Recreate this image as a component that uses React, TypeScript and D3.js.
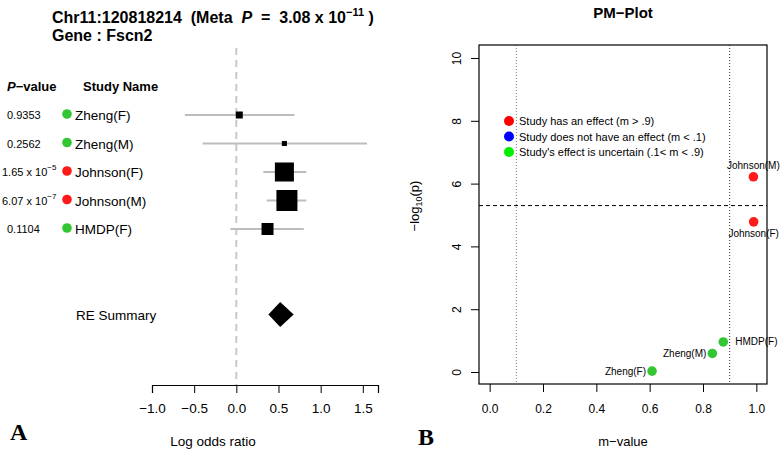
import { useEffect, useRef } from 'react';
import * as d3 from 'd3';

// forest plot data
const studies = ['Zheng(F)', 'Zheng(M)', 'Johnson(F)', 'Johnson(M)', 'HMDP(F)'];
const pText = ['0.9353', '0.2562', '1.65 x 10', '6.07 x 10', '0.1104'];
const pExp = ['', '', '-5', '-7', ''];
const pValues = [0.9353, 0.2562, 1.65e-5, 6.07e-7, 0.1104];
const logOR = [0.035, 0.57, 0.57, 0.6, 0.37];
const ciLow = [-0.61, -0.4, 0.32, 0.36, -0.07];
const ciHigh = [0.69, 1.55, 0.83, 0.83, 0.8];
const weights = [4.8, 2.5, 35.4, 43.2, 14.1];
const summary = [0.38, 0.52, 0.68];
const orTicks = [-1.0, -0.5, 0.0, 0.5, 1.0, 1.5];

// pm plot data
const mValues = [0.609, 0.835, 0.99, 0.989, 0.876];
const mTicks = [0, 0.2, 0.4, 0.6, 0.8, 1.0];
const logPTicks = [0, 2, 4, 6, 8, 10];
const thresholdLogP = 5.3;
const labelSide = ['left', 'left', 'below', 'above', 'right'];
const legendItems = [
  ['Study has an effect (m > .9)', '#ff0000'],
  ['Study does not have an effect (m < .1)', '#0000ff'],
  ["Study's effect is uncertain (.1< m < .9)", '#00ee00'],
];

const FONT = 'Liberation Sans, Arial, Helvetica, sans-serif';

function colorOf(m: number) {
  if (m > 0.9) return '#ff1a1a';
  if (m < 0.1) return '#0000ff';
  return '#33c633';
}

function App() {
  const leftAxis = useRef<SVGGElement>(null);
  const pmX = useRef<SVGGElement>(null);
  const pmY = useRef<SVGGElement>(null);

  const x = d3.scaleLinear().domain([-1, 1.68]).range([152, 378]);
  const row = d3.scaleLinear().domain([0, 1]).range([115, 143.5]);
  const box = d3.scaleSqrt().domain([0, d3.max(weights) as number]).range([0, 21]);

  const mx = d3.scaleLinear().domain([-0.04, 1.04]).range([479, 767]);
  const my = d3.scaleLinear().domain([-0.382, 10.414]).range([384, 45]);

  useEffect(() => {
    const a = d3.select(leftAxis.current);
    a.selectAll('*').remove();
    a.call(d3.axisBottom(x).tickValues(orTicks).tickSizeOuter(0).tickSize(8).tickPadding(10)
      .tickFormat((d) => d3.format('.1f')(d as number).replace('-', '\u2212')));
    a.select('.domain').attr('stroke-width', 1.2);
    a.selectAll('text').attr('font-size', 13.5).attr('font-family', FONT).attr('fill', '#000');

    const bx = d3.select(pmX.current);
    bx.selectAll('*').remove();
    bx.call(d3.axisBottom(mx).tickValues(mTicks).tickSize(8).tickPadding(12).tickFormat(d3.format('.1f')));
    bx.select('.domain').remove();
    bx.selectAll('text').attr('font-size', 12).attr('font-family', FONT).attr('fill', '#000');

    const ly = d3.select(pmY.current);
    ly.selectAll('*').remove();
    ly.call(d3.axisLeft(my).tickValues(logPTicks).tickSize(8).tickFormat(d3.format('d')));
    ly.select('.domain').remove();
    ly.selectAll('text')
      .attr('font-size', 12).attr('font-family', FONT).attr('fill', '#000')
      .attr('text-anchor', 'middle')
      .attr('transform', 'translate(-22,0) rotate(-90)')
      .attr('x', 0).attr('dy', '0.35em');
  }, []);

  const legendY = [121, 136.5, 152];

  return (
    <svg width={784} height={451} style={{ position: 'absolute', left: 0, top: 0, background: '#fff' }}
      fontFamily={FONT}>
      {/* ---------- panel A ---------- */}
      <text x={52} y={23} fontSize={16} fontWeight="bold" style={{ whiteSpace: 'pre' }}>
        {'Chr11:120818214  (Meta  '}
        <tspan fontStyle="italic">P</tspan>
        {'  =  3.08 x 10'}
        <tspan fontSize={11} dy={-7}>{'\u221211'}</tspan>
        <tspan dy={7}>{' )'}</tspan>
      </text>
      <text x={52} y={41} fontSize={16} fontWeight="bold">Gene : Fscn2</text>

      <text x={7} y={91} fontSize={13} fontWeight="bold">
        <tspan fontStyle="italic">P</tspan>{'\u2212value'}
      </text>
      <text x={83} y={91} fontSize={13} fontWeight="bold">Study Name</text>

      <line x1={x(0)} x2={x(0)} y1={48} y2={385} stroke="#c8c8c8" strokeWidth={2} strokeDasharray="7,5" />

      {studies.map((s, i) => {
        const y = row(i);
        const size = box(weights[i]);
        return (
          <g key={s}>
            <text x={pExp[i] ? 2 : 7} y={y + 4} fontSize={11}>
              {pText[i]}
              {pExp[i] && <tspan fontSize={8} dy={-6}>{pExp[i].replace('-', '\u2212')}</tspan>}
            </text>
            <circle cx={67} cy={y - 1} r={4.8} fill={colorOf(mValues[i])} />
            <text x={75} y={y + 5} fontSize={13.5}>{s}</text>
            <line x1={x(ciLow[i])} x2={x(ciHigh[i])} y1={y} y2={y} stroke="#bdbdbd" strokeWidth={2} />
            <rect x={x(logOR[i]) - size / 2} y={y - size / 2} width={size} height={size} fill="#000" />
          </g>
        );
      })}

      <text x={76} y={row(7) + 5} fontSize={13.5}>RE Summary</text>
      <path
        d={`M${x(summary[0])},${row(7)} L${x(summary[1])},${row(7) - 12.5} L${x(summary[2])},${row(7)} L${x(summary[1])},${row(7) + 12.5} Z`}
        fill="#000"
      />

      <g ref={leftAxis} transform="translate(0,385)" />
      <text x={213} y={446} fontSize={13.5} textAnchor="middle">Log odds ratio</text>
      <text x={10} y={440} fontSize={24} fontWeight="bold" fontFamily="Liberation Serif, Times New Roman, serif">A</text>

      {/* ---------- panel B ---------- */}
      <text x={623} y={18} fontSize={15} fontWeight="bold" textAnchor="middle">{'PM\u2212Plot'}</text>
      <line x1={mx(0.1)} x2={mx(0.1)} y1={45} y2={384} stroke="#777" strokeDasharray="1,2" />
      <line x1={mx(0.9)} x2={mx(0.9)} y1={45} y2={384} stroke="#333" strokeDasharray="1,2" />
      <line x1={479} x2={767} y1={my(thresholdLogP)} y2={my(thresholdLogP)} stroke="#000" strokeDasharray="4,3" />
      <rect x={479} y={45} width={288} height={339} fill="none" stroke="#000" strokeWidth={1.2} />
      <g ref={pmX} transform="translate(0,384)" />
      <g ref={pmY} transform="translate(479,0)" />

      {legendItems.map(([t, c], i) => (
        <g key={t}>
          <circle cx={509} cy={legendY[i]} r={5} fill={c} />
          <text x={519} y={legendY[i] + 4} fontSize={11}>{t}</text>
        </g>
      ))}

      {studies.map((s, i) => {
        const cx = mx(mValues[i]);
        const cy = my(-Math.log10(pValues[i]));
        const side = labelSide[i];
        let tx = cx, ty = cy + 3.5, anchor = 'middle';
        if (side === 'left') { tx = cx - 6; anchor = 'end'; }
        if (side === 'right') { tx = cx + 12; anchor = 'start'; }
        if (side === 'above') ty = cy - 8;
        if (side === 'below') ty = cy + 15;
        return (
          <g key={s}>
            <circle cx={cx} cy={cy} r={4.8} fill={colorOf(mValues[i])} />
            <text x={tx} y={ty} fontSize={10} textAnchor={anchor}>{s}</text>
          </g>
        );
      })}

      <text transform="translate(419,206) rotate(-90)" fontSize={13} textAnchor="middle">
        {'\u2212log'}<tspan fontSize={9} dy={3}>10</tspan><tspan dy={-3}>(p)</tspan>
      </text>
      <text x={623} y={446} fontSize={13} textAnchor="middle">{'m\u2212value'}</text>
      <text x={418} y={445} fontSize={24} fontWeight="bold" fontFamily="Liberation Serif, Times New Roman, serif">B</text>
    </svg>
  );
}

export default App;
